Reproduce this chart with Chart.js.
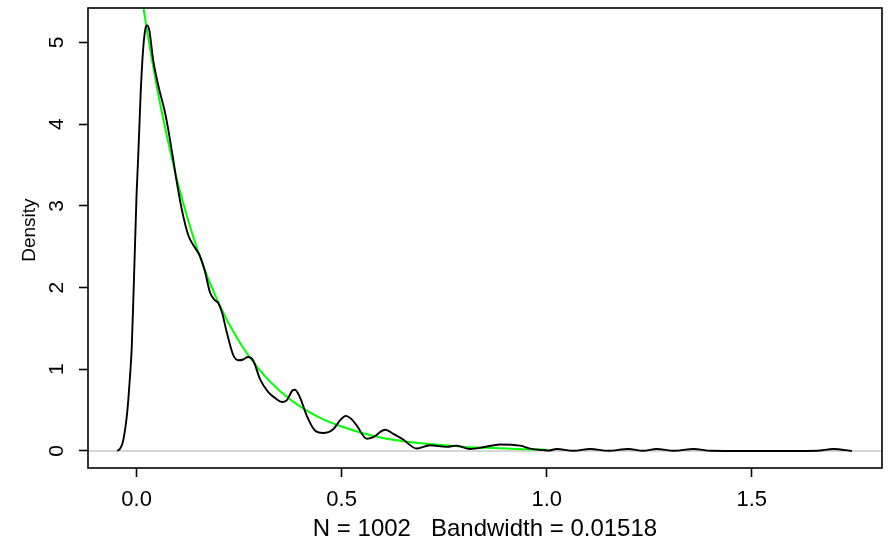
<!DOCTYPE html>
<html>
<head>
<meta charset="utf-8">
<script src="https://cdn.jsdelivr.net/npm/chart.js@4/dist/chart.umd.min.js"></script>
<style>
  html, body { margin: 0; padding: 0; background: #ffffff; }
  #wrap { width: 888px; height: 542px; }
</style>
</head>
<body>
<div id="wrap"><canvas id="c" width="888" height="542"></canvas></div>
<script>
// ---- data ----
const densityX = [-0.047, -0.040, -0.034, -0.029, -0.024, -0.020, -0.016, -0.012, -0.008, -0.004,
  0.000, 0.004, 0.010, 0.016, 0.022, 0.026, 0.031, 0.040, 0.053, 0.069,
  0.077, 0.088, 0.098, 0.110, 0.126, 0.142, 0.154, 0.167, 0.179, 0.190,
  0.199, 0.208, 0.220, 0.236, 0.248, 0.260, 0.272, 0.284, 0.301, 0.321,
  0.340, 0.354, 0.366, 0.380, 0.386, 0.398, 0.415, 0.435, 0.455, 0.480,
  0.497, 0.510, 0.524, 0.537, 0.561, 0.577, 0.606, 0.626, 0.650, 0.683,
  0.715, 0.756, 0.780, 0.813, 0.845, 0.886, 0.935, 0.963, 0.992, 1.005,
  1.024, 1.065, 1.106, 1.150, 1.199, 1.235, 1.268, 1.310, 1.358, 1.400,
  1.450, 1.600, 1.660, 1.699, 1.744];
const densityY = [0.00, 0.03, 0.10, 0.23, 0.42, 0.64, 0.92, 1.25, 1.85, 2.50,
  3.15, 3.61, 4.39, 4.92, 5.18, 5.21, 5.15, 4.80, 4.47, 4.15,
  3.94, 3.61, 3.29, 2.96, 2.64, 2.49, 2.39, 2.19, 1.94, 1.85,
  1.81, 1.70, 1.45, 1.17, 1.11, 1.12, 1.15, 1.11, 0.88, 0.72,
  0.64, 0.60, 0.62, 0.74, 0.75, 0.66, 0.43, 0.25, 0.22, 0.27,
  0.38, 0.43, 0.39, 0.31, 0.15, 0.17, 0.26, 0.21, 0.14, 0.03,
  0.07, 0.05, 0.065, 0.025, 0.045, 0.08, 0.065, 0.025, 0.01, 0.005,
  0.025, 0.003, 0.025, 0.003, 0.025, 0.003, 0.025, 0.003, 0.025, 0.002,
  0.000, 0.000, 0.003, 0.025, 0.000];

const fitX = [0.000, 0.025, 0.050, 0.075, 0.100, 0.150, 0.200, 0.250, 0.300, 0.350,
  0.400, 0.450, 0.500, 0.550, 0.600, 0.650, 0.700, 0.750, 0.800, 0.850,
  0.900, 0.950, 1.000];
const fitY = [6.00, 5.16, 4.44, 3.83, 3.29, 2.44, 1.81, 1.34, 0.99, 0.73,
  0.54, 0.40, 0.30, 0.22, 0.16, 0.12, 0.09, 0.07, 0.05, 0.04,
  0.03, 0.02, 0.015];

const xTickValues = [0.0, 0.5, 1.0, 1.5];
const yTickValues = [0, 1, 2, 3, 4, 5];
const xRange = [-0.1185, 1.8175];
const yRange = [-0.2085, 5.4225];
const xTitle = 'N = 1002   Bandwidth = 0.01518';
const yTitle = 'Density';

// ---- chart ----
const FONT = '"Liberation Sans", Arial, Helvetica, sans-serif';
const toPts = (xs, ys) => xs.map((x, i) => ({ x: x, y: ys[i] }));

const boxPlugin = {
  id: 'box',
  afterDraw(chart) {
    const { ctx, chartArea: a } = chart;
    ctx.save();
    ctx.strokeStyle = '#000000';
    ctx.lineWidth = 1.6;
    ctx.strokeRect(a.left, a.top, a.right - a.left, a.bottom - a.top);
    ctx.restore();
  }
};

new Chart(document.getElementById('c'), {
  type: 'scatter',
  data: {
    datasets: [
      {
        label: 'zero',
        data: [{ x: xRange[0], y: 0 }, { x: xRange[1], y: 0 }],
        showLine: true, borderColor: '#c8c8c8', borderWidth: 1.6,
        pointRadius: 0, order: 3
      },
      {
        label: 'fit',
        data: toPts(fitX, fitY),
        showLine: true, borderColor: '#00ff00', borderWidth: 2,
        pointRadius: 0, cubicInterpolationMode: 'monotone', order: 2
      },
      {
        label: 'density',
        data: toPts(densityX, densityY),
        showLine: true, borderColor: '#000000', borderWidth: 1.9,
        pointRadius: 0, cubicInterpolationMode: 'monotone', order: 1
      }
    ]
  },
  options: {
    responsive: false,
    animation: false,
    events: [],
    layout: { autoPadding: false, padding: { top: 8, right: 6, left: 0, bottom: 0 } },
    plugins: { legend: { display: false }, tooltip: { enabled: false } },
    scales: {
      x: {
        type: 'linear', position: 'bottom',
        min: xRange[0], max: xRange[1],
        afterBuildTicks(s) { s.ticks = xTickValues.map(v => ({ value: v })); },
        afterFit(s) { s.height = 74; s.paddingLeft = 0; s.paddingRight = 0; },
        grid: { drawOnChartArea: false, drawTicks: true, tickLength: 9, tickColor: '#000000', tickWidth: 1.6 },
        border: { display: false },
        ticks: {
          color: '#000000', padding: 10, maxRotation: 0, autoSkip: false,
          font: { family: FONT, size: 22 },
          callback: v => Number(v).toFixed(1)
        },
        title: {
          display: true, text: xTitle, color: '#000000',
          font: { family: FONT, size: 24, lineHeight: 1 },
          padding: { top: 0, bottom: 1 }
        }
      },
      y: {
        type: 'linear', position: 'left',
        min: yRange[0], max: yRange[1],
        afterBuildTicks(s) { s.ticks = yTickValues.map(v => ({ value: v })); },
        afterFit(s) { s.width = 88; s.paddingTop = 0; s.paddingBottom = 0; },
        grid: { drawOnChartArea: false, drawTicks: true, tickLength: 9, tickColor: '#000000', tickWidth: 1.6 },
        border: { display: false },
        ticks: {
          color: '#000000', padding: 16, minRotation: 90, maxRotation: 90,
          crossAlign: 'center', autoSkip: false,
          font: { family: FONT, size: 21 },
          callback: v => String(v)
        },
        title: {
          display: true, text: '   ' + yTitle, color: '#000000',
          font: { family: FONT, size: 19, lineHeight: 1 },
          padding: { top: 20, bottom: 0 }
        }
      }
    }
  },
  plugins: [boxPlugin]
});
</script>
</body>
</html>
